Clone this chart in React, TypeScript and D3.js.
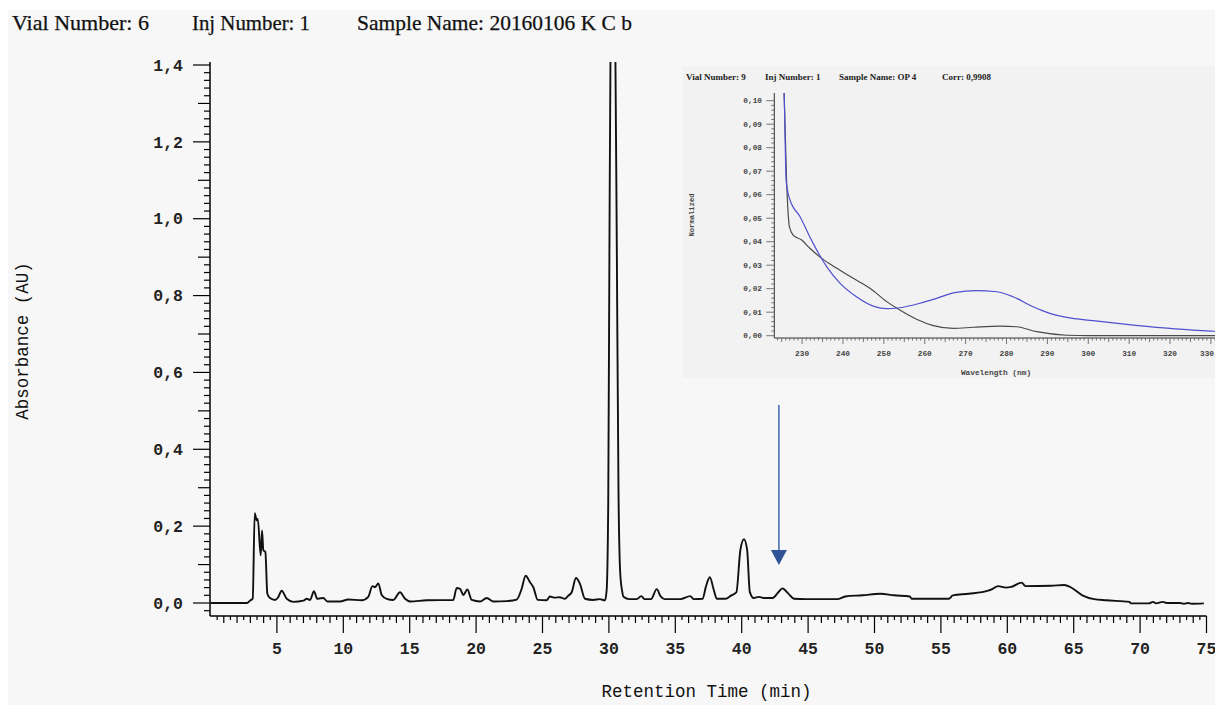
import React from "react";
import * as d3 from "d3";

// ---------- DATA ----------
const headerItems = ["Vial Number: 6", "Inj Number: 1", "Sample Name: 20160106 K C b"];
const insetHeaderItems = ["Vial Number: 9", "Inj Number: 1", "Sample Name: OP 4", "Corr: 0,9908"];

const yTickValues = [0, 0.2, 0.4, 0.6, 0.8, 1.0, 1.2, 1.4];
const yTickLabels = ["0,0", "0,2", "0,4", "0,6", "0,8", "1,0", "1,2", "1,4"];
const xTickValues = [5, 10, 15, 20, 25, 30, 35, 40, 45, 50, 55, 60, 65, 70, 75];
const xTickLabels = ["5", "10", "15", "20", "25", "30", "35", "40", "45", "50", "55", "60", "65", "70", "75"];

const insetYTickValues = [0, 0.01, 0.02, 0.03, 0.04, 0.05, 0.06, 0.07, 0.08, 0.09, 0.1];
const insetYTickLabels = ["0,00", "0,01", "0,02", "0,03", "0,04", "0,05", "0,06", "0,07", "0,08", "0,09", "0,10"];
const insetXTickValues = [230, 240, 250, 260, 270, 280, 290, 300, 310, 320, 330];
const insetXTickLabels = ["230", "240", "250", "260", "270", "280", "290", "300", "310", "320", "330"];

// retention time (min), absorbance (AU)
const chromatogram: [number, number][] = [
  [0, 0], [2.75, 0], [2.97, 0.006], [3.18, 0.012], [3.33, 0.234], [3.48, 0.215], [3.56, 0.219], [3.78, 0.124],
  [3.88, 0.189], [3.98, 0.137], [4.13, 0.133], [4.28, 0.024], [4.48, 0.013], [4.86, 0.008], [5.1, 0.015],
  [5.36, 0.032], [5.74, 0.011], [6.24, 0.003], [7.0, 0.006], [7.24, 0.011], [7.5, 0.008], [7.79, 0.031],
  [8.04, 0.011], [8.25, 0.012], [8.49, 0.013], [8.8, 0.004], [9.75, 0.004], [10.38, 0.009], [11.38, 0.007],
  [11.88, 0.016], [12.19, 0.044], [12.39, 0.041], [12.64, 0.051], [12.89, 0.021], [13.27, 0.011],
  [13.77, 0.008], [14.27, 0.028], [14.65, 0.011], [15.03, 0.004], [16.28, 0.007], [18.28, 0.008],
  [18.54, 0.039], [18.79, 0.037], [19.04, 0.021], [19.34, 0.035], [19.67, 0.008], [20.3, 0.004],
  [20.8, 0.013], [21.3, 0.004], [22.3, 0.005], [23.06, 0.009], [23.43, 0.037], [23.73, 0.071],
  [24.06, 0.054], [24.31, 0.041], [24.64, 0.008], [25.3, 0.007], [25.56, 0.017], [25.94, 0.014],
  [26.3, 0.015], [26.68, 0.011], [26.94, 0.019], [27.2, 0.028], [27.52, 0.065], [27.82, 0.05],
  [28.2, 0.011], [28.82, 0.008], [29.32, 0.01], [29.7, 0.007], [29.83, 0.033], [29.95, 0.26],
  [30.05, 1.0], [30.15, 1.6], [30.3, 1.9], [30.45, 1.6], [30.6, 0.9], [30.72, 0.3], [30.85, 0.08],
  [31.0, 0.03], [31.1, 0.016], [31.54, 0.01], [32.1, 0.01], [32.43, 0.018], [32.7, 0.01], [33.17, 0.01],
  [33.6, 0.036], [33.9, 0.017], [34.2, 0.01], [35.38, 0.01], [36.12, 0.018], [36.4, 0.01], [37.06, 0.011],
  [37.3, 0.042], [37.6, 0.067], [37.89, 0.035], [38.13, 0.011], [38.78, 0.011], [39.22, 0.02],
  [39.6, 0.028], [39.9, 0.138], [40.17, 0.166], [40.41, 0.138], [40.61, 0.029], [40.9, 0.013],
  [41.29, 0.016], [41.67, 0.013], [42.32, 0.013], [42.76, 0.028], [43.06, 0.038], [43.5, 0.025],
  [43.95, 0.011], [44.83, 0.01], [47.2, 0.01], [47.79, 0.017], [49.1, 0.02], [50.44, 0.024],
  [51.47, 0.02], [52.66, 0.017], [52.8, 0.011], [55.6, 0.011], [55.9, 0.02], [57.1, 0.024],
  [58.56, 0.032], [58.86, 0.036], [59.3, 0.044], [59.9, 0.04], [60.3, 0.042], [61.08, 0.053],
  [61.37, 0.044], [63.3, 0.045], [64.3, 0.047], [64.77, 0.041], [65.65, 0.02], [66.54, 0.01],
  [67.43, 0.007], [69.2, 0.003], [69.3, -0.001], [70.67, -0.001], [70.97, 0.003], [71.2, -0.001],
  [71.7, 0.003], [72.0, 0], [73.0, 0], [73.3, -0.002], [73.6, 0], [73.9, -0.002], [74.8, -0.001],
];

// arrow marker (retention time, from / to absorbance)
const arrowTime = 42.8;
const arrowFrom = 0.515;
const arrowTo = 0.099;

// inset spectra: wavelength (nm), normalized absorbance
const spectrumSample: [number, number][] = [
  [225.4, 0.11], [225.6, 0.1032], [226.2, 0.0663], [226.9, 0.0464], [227.8, 0.0428], [229.9, 0.0407],
  [231.9, 0.0372], [234.8, 0.0329], [238.5, 0.0287], [242.5, 0.0244], [246.6, 0.0202], [250.7, 0.0145],
  [253.9, 0.0109], [258.0, 0.007], [262.1, 0.0043], [267.0, 0.0031], [271.9, 0.0036], [278.4, 0.0041],
  [282.5, 0.0038], [287.4, 0.0017], [294.7, 0.0002], [300, 0], [331, 0],
];
const spectrumLibrary: [number, number][] = [
  [225.4, 0.11], [225.6, 0.1032], [226.1, 0.066], [226.9, 0.0585], [229.5, 0.0506], [232.7, 0.0393],
  [236.0, 0.0294], [239.3, 0.0223], [243.3, 0.0166], [247.4, 0.0126], [250.7, 0.0115], [253.9, 0.0119],
  [258.8, 0.0138], [262.9, 0.0159], [267.3, 0.0183], [272.6, 0.0192], [277.6, 0.0187], [281.6, 0.0166],
  [286.5, 0.0123], [290.6, 0.0095], [294.7, 0.0078], [301.2, 0.0064], [309.4, 0.0048], [317.5, 0.0034],
  [325.6, 0.0024], [331, 0.0019],
];

// ---------- LAYOUT ----------
const W = 1215;
const H = 708;
const mono = "'Liberation Mono', 'Courier New', monospace";
const serif = "'Liberation Serif', 'Times New Roman', serif";

export default function App() {
  const x = d3.scaleLinear().domain([0, 75]).range([210.5, 1206.5]);
  const y = d3.scaleLinear().domain([0, 1.4]).range([603, 65]);
  const axisX = 210;
  const axisTop = 62;
  const axisBottom = 616;

  const line = d3
    .line<[number, number]>()
    .x((d) => x(d[0]))
    .y((d) => y(d[1]))
    .curve(d3.curveMonotoneX);

  const ix = d3.scaleLinear().domain([223.2, 331]).range([774.3, 1215]);
  const iy = d3.scaleLinear().domain([0, 0.1]).range([335.7, 100.7]);
  const iline = d3
    .line<[number, number]>()
    .x((d) => ix(d[0]))
    .y((d) => iy(d[1]))
    .curve(d3.curveMonotoneX);
  const iAxisX = 774.3;
  const iAxisY = 338;
  const iTop = 93;

  const yMinor = d3.range(-1, 71).map((i) => ({ v: i * 0.02, len: i % 10 === 0 ? 17 : i % 5 === 0 ? 12 : 6 }));
  const xMinor = d3.range(1, 151).map((i) => ({ v: i * 0.5, len: i % 10 === 0 ? 17 : i % 2 === 0 ? 7 : 4 }));
  const iyMinor = d3.range(0, 51).map((i) => ({ v: i * 0.002, len: i % 5 === 0 ? 8 : 3 }));
  const ixMinor = d3.range(224, 332).map((v) => ({ v, len: v % 10 === 0 ? 6 : v % 5 === 0 ? 4 : 2.5 }));

  const headerX = [12, 192, 357];
  const headerLen = [137, 118, 275];
  const insetHeaderX = [686, 765, 839, 942];

  const ax = x(arrowTime);
  const aFrom = y(arrowFrom);
  const aTo = y(arrowTo);
  const aHeadTop = aTo - 15;

  return (
    <svg width={W} height={H} style={{ position: "fixed", left: 0, top: 0, background: "#ffffff" }}>
      <defs>
        <clipPath id="mainClip">
          <rect x={axisX} y={axisTop} width={W - axisX} height={axisBottom - axisTop} />
        </clipPath>
        <clipPath id="insetClip">
          <rect x={iAxisX} y={iTop} width={W - iAxisX} height={iAxisY - iTop} />
        </clipPath>
      </defs>
      <rect x={8} y={10} width={W - 8} height={695} fill="#f7f7f7" />

      {headerItems.map((t, i) => (
        <text
          key={t}
          x={headerX[i]}
          y={30}
          fontFamily={serif}
          fontSize={21}
          fill="#111"
          stroke="#111"
          strokeWidth={0.25}
          textLength={headerLen[i]}
          lengthAdjust="spacingAndGlyphs"
        >
          {t}
        </text>
      ))}

      <rect x={683} y={66} width={W - 683} height={312} fill="#f2f2f2" />
      {insetHeaderItems.map((t, i) => (
        <text key={t} x={insetHeaderX[i]} y={80} fontFamily={serif} fontSize={9} fontWeight="bold" fill="#222">
          {t}
        </text>
      ))}
      <line x1={iAxisX} x2={iAxisX} y1={iTop} y2={iAxisY} stroke="#333" strokeWidth={1} />
      <line x1={iAxisX} x2={W} y1={iAxisY} y2={iAxisY} stroke="#333" strokeWidth={1} />
      {iyMinor.map((t, i) => (
        <line key={"iy" + i} x1={iAxisX - t.len} x2={iAxisX} y1={iy(t.v)} y2={iy(t.v)} stroke="#555" strokeWidth={0.8} />
      ))}
      {ixMinor.map((t, i) => (
        <line key={"ix" + i} x1={ix(t.v)} x2={ix(t.v)} y1={iAxisY} y2={iAxisY + t.len} stroke="#555" strokeWidth={0.8} />
      ))}
      {insetYTickValues.map((v, i) => (
        <text key={"iyl" + i} x={762} y={iy(v)} dy="0.32em" textAnchor="end" fontFamily={mono} fontSize={7.8} fontWeight="bold" fill="#444">
          {insetYTickLabels[i]}
        </text>
      ))}
      {insetXTickValues.map((v, i) => {
        const px = ix(v);
        const last = px + 8 > W;
        return (
          <text
            key={"ixl" + i}
            x={last ? W - 1 : px}
            y={356}
            textAnchor={last ? "end" : "middle"}
            fontFamily={mono}
            fontSize={7.8}
            fontWeight="bold"
            fill="#444"
          >
            {insetXTickLabels[i]}
          </text>
        );
      })}
      <text x={996} y={375} textAnchor="middle" fontFamily={mono} fontSize={7.8} fontWeight="bold" fill="#444">
        Wavelength (nm)
      </text>
      <text transform="translate(694,215) rotate(-90)" textAnchor="middle" fontFamily={mono} fontSize={7.2} fontWeight="bold" fill="#444">
        Normalized
      </text>
      <g clipPath="url(#insetClip)">
        <path d={iline(spectrumSample) || ""} fill="none" stroke="#4a4a4a" strokeWidth={1.2} />
        <path d={iline(spectrumLibrary) || ""} fill="none" stroke="#5050d0" strokeWidth={1.2} />
      </g>

      <line x1={axisX} x2={axisX} y1={axisTop} y2={axisBottom} stroke="#000" strokeWidth={1.5} />
      <line x1={axisX} x2={x(75)} y1={axisBottom} y2={axisBottom} stroke="#000" strokeWidth={1.5} />
      {yMinor.map((t, i) => (
        <line key={"ym" + i} x1={axisX - t.len} x2={axisX} y1={y(t.v)} y2={y(t.v)} stroke="#000" strokeWidth={1.2} />
      ))}
      {xMinor.map((t, i) => (
        <line key={"xm" + i} x1={x(t.v)} x2={x(t.v)} y1={axisBottom} y2={axisBottom + t.len} stroke="#000" strokeWidth={1.2} />
      ))}
      {yTickValues.map((v, i) => (
        <text key={"yl" + i} x={183} y={y(v)} dy="0.35em" textAnchor="end" fontFamily={mono} fontSize={16.5} fontWeight="bold" fill="#222">
          {yTickLabels[i]}
        </text>
      ))}
      {xTickValues.map((v, i) => (
        <text key={"xl" + i} x={x(v)} y={654} textAnchor="middle" fontFamily={mono} fontSize={16.5} fontWeight="bold" fill="#222">
          {xTickLabels[i]}
        </text>
      ))}
      <text x={706.5} y={697} textAnchor="middle" fontFamily={mono} fontSize={17.5} fill="#111">
        Retention Time (min)
      </text>
      <text transform="translate(28,341) rotate(-90)" textAnchor="middle" fontFamily={mono} fontSize={17.5} fill="#111">
        Absorbance (AU)
      </text>

      <g clipPath="url(#mainClip)">
        <path d={line(chromatogram) || ""} fill="none" stroke="#111" strokeWidth={1.9} strokeLinejoin="round" />
      </g>

      <line x1={ax} x2={ax} y1={aFrom} y2={aHeadTop + 1} stroke="#4a72b0" strokeWidth={1.6} />
      <path d={`M${ax - 8},${aHeadTop} L${ax + 8},${aHeadTop} L${ax},${aTo} Z`} fill="#2f5597" />
    </svg>
  );
}
